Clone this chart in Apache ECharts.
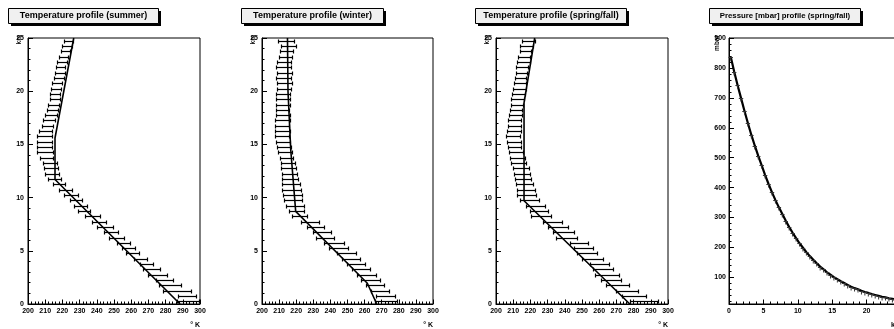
<!DOCTYPE html>
<html>
<head>
<meta charset="utf-8">
<title>Atmosphere profiles</title>
<script src="https://cdn.jsdelivr.net/npm/echarts@6/dist/echarts.min.js"></script>
<style>
  html, body { margin: 0; padding: 0; background: #fff; }
  #chart { width: 894px; height: 329px; }
</style>
</head>
<body>
<div id="chart"></div>
<script>
// altitude bins (km), one measured point per bin
const altitudeKm = [0.25, 0.75, 1.25, 1.75, 2.25, 2.75, 3.25, 3.75, 4.25, 4.75,
  5.25, 5.75, 6.25, 6.75, 7.25, 7.75, 8.25, 8.75, 9.25, 9.75,
  10.25, 10.75, 11.25, 11.75, 12.25, 12.75, 13.25, 13.75, 14.25, 14.75,
  15.25, 15.75, 16.25, 16.75, 17.25, 17.75, 18.25, 18.75, 19.25, 19.75,
  20.25, 20.75, 21.25, 21.75, 22.25, 22.75, 23.25, 23.75, 24.25, 24.75];

// measured temperature (K) and its error, per bin
const summerTemp = [293.0, 292.4, 286.6, 282.6, 279.5, 275.2, 272.0, 268.8, 265.3, 260.9,
  258.4, 255.4, 251.6, 248.4, 244.7, 241.2, 237.4, 232.6, 230.6, 227.8,
  225.0, 221.8, 218.0, 215.5, 214.0, 213.3, 212.6, 210.8, 210.1, 209.4,
  209.4, 209.6, 210.2, 211.3, 212.3, 213.3, 214.3, 215.0, 215.6, 215.8,
  216.2, 217.0, 217.8, 218.5, 219.0, 219.6, 220.6, 221.6, 222.6, 223.6];
const summerErr = [6.4, 5.3, 8.2, 6.4, 5.0, 5.4, 5.0, 3.7, 3.7, 3.9,
  3.9, 3.9, 4.3, 4.2, 4.5, 4.2, 4.3, 3.7, 3.9, 3.4,
  4.2, 3.6, 3.5, 3.6, 4.2, 4.1, 4.1, 3.9, 4.6, 4.4,
  4.4, 4.2, 3.6, 3.4, 3.4, 3.4, 3.4, 3.2, 3.1, 3.0,
  3.0, 2.9, 2.9, 2.9, 2.8, 2.9, 2.8, 2.7, 2.7, 2.7];

const winterTemp = [272.5, 272.0, 269.0, 266.0, 263.3, 261.0, 258.0, 255.0, 252.2, 249.3,
  244.7, 242.0, 236.7, 235.0, 231.2, 228.0, 222.0, 220.3, 219.4, 218.0,
  217.7, 217.3, 217.0, 216.4, 216.1, 215.3, 215.1, 214.2, 213.5, 212.9,
  212.1, 211.7, 211.9, 211.6, 211.9, 212.1, 211.9, 212.1, 212.1, 212.4,
  212.7, 213.2, 212.6, 213.2, 212.4, 213.1, 213.8, 214.2, 215.3, 214.1];
const winterErr = [6.6, 5.5, 5.3, 5.3, 5.6, 5.5, 5.4, 5.4, 5.4, 5.4,
  5.5, 5.8, 5.3, 5.2, 5.1, 5.1, 4.4, 4.3, 5.2, 5.2,
  5.5, 5.4, 5.1, 4.9, 4.6, 4.4, 4.2, 3.9, 3.9, 3.9,
  4.1, 4.1, 4.3, 4.2, 4.3, 4.1, 3.9, 4.1, 4.1, 4.0,
  4.1, 4.2, 4.2, 4.2, 4.4, 4.1, 3.9, 3.9, 4.4, 4.6];

const springTemp = [286.0, 280.4, 276.3, 270.5, 266.8, 264.6, 262.1, 260.3, 256.3, 252.9,
  250.8, 248.1, 240.8, 239.2, 236.1, 233.1, 226.3, 224.9, 223.0, 219.4,
  217.6, 217.3, 216.5, 215.7, 214.9, 214.5, 213.1, 212.5, 211.6, 210.9,
  210.6, 209.9, 210.6, 210.9, 210.9, 211.4, 211.6, 212.1, 212.5, 213.1,
  213.6, 213.8, 214.2, 214.7, 215.2, 215.9, 216.4, 217.2, 217.8, 218.9];
const springErr = [8.0, 7.0, 6.4, 6.7, 5.8, 6.8, 5.9, 5.6, 6.1, 6.0,
  5.5, 5.3, 6.2, 6.0, 5.6, 5.5, 5.8, 5.3, 5.3, 5.6,
  5.4, 5.1, 5.0, 4.8, 4.6, 4.7, 4.2, 4.2, 4.1, 3.9,
  4.2, 4.3, 4.2, 3.9, 3.9, 3.9, 3.7, 3.6, 3.6, 3.6,
  3.7, 3.5, 3.4, 3.3, 3.4, 3.7, 3.6, 3.4, 3.7, 3.6];

// pressure (mbar) per bin, spring/fall
const pressureMbar = [837, 788, 742, 699, 656, 615, 576, 540, 506, 474,
  442, 412, 384, 358, 334, 312, 289, 268, 249, 231,
  214, 199, 184, 171, 159, 147, 136, 127, 117, 109,
  101, 94, 87, 81, 75, 69, 64, 60, 55, 51,
  48, 44, 41, 38, 35, 33, 30, 28, 26, 24];

// reference model profiles (solid lines)
const summerProfileKm = [0, 11.7, 15.6, 25];
const summerProfileTemp = [288.4, 215.7, 215.7, 226.6];
const winterProfileKm = [0, 1.95, 8.7, 14.5, 20, 25];
const winterProfileTemp = [267.1, 261.6, 219.7, 216.8, 215.2, 214.9];
const springProfileKm = [0, 9.7, 18.9, 25];
const springProfileTemp = [277.8, 216.3, 216.3, 222.5];

// pressure axis ticks
const pressureTicks = [100, 200, 300, 400, 500, 600, 700, 800, 900];
const pressureMinorTicks = [20, 40, 60, 80, 120, 140, 160, 180, 220, 240, 260, 280,
  320, 340, 360, 380, 420, 440, 460, 480, 520, 540, 560, 580,
  620, 640, 660, 680, 720, 740, 760, 780, 820, 840, 860, 880];

const titles = ["Temperature profile (summer)", "Temperature profile (winter)",
  "Temperature profile (spring/fall)", "Pressure [mbar] profile (spring/fall)"];

const FONT = "Liberation Sans";
const panelLeft = [28, 262, 496, 729];
const panelWidth = [172, 171, 172, 172];
const boxX = [8, 241, 475, 709];
const boxW = [150, 142, 151, 151];

function zip(a, b) {
  return a.map((v, i) => [v, b[i]]);
}

// horizontal error bar with end caps
function tempErrorBar(params, api) {
  const t = api.value(0), km = api.value(1), e = api.value(2);
  const a = api.coord([t - e, km]);
  const b = api.coord([t + e, km]);
  const y = Math.round(a[1]) + 0.5;
  const x1 = Math.round(a[0]) + 0.5;
  const x2 = Math.round(b[0]) + 0.5;
  const st = { stroke: "#000", lineWidth: 1.2 };
  return {
    type: "group",
    children: [
      { type: "line", shape: { x1: x1, y1: y, x2: x2, y2: y }, style: st },
      { type: "line", shape: { x1: x1, y1: y - 2, x2: x1, y2: y + 2 }, style: st },
      { type: "line", shape: { x1: x2, y1: y - 2, x2: x2, y2: y + 2 }, style: st },
    ],
  };
}

// bin-wide marker for the pressure histogram
function pressureMark(params, api) {
  const km = api.value(0), p = api.value(1);
  const a = api.coord([km - 0.25, p]);
  const b = api.coord([km + 0.25, p]);
  const c = api.coord([km, p]);
  const y = Math.round(a[1]) + 0.5;
  const st = { stroke: "#333", lineWidth: 1 };
  return {
    type: "group",
    children: [
      { type: "line", shape: { x1: a[0] - 0.5, y1: y, x2: b[0] + 0.5, y2: y }, style: st },
      { type: "line", shape: { x1: c[0], y1: y, x2: c[0], y2: y + 3 }, style: st },
    ],
  };
}

const labelStyle = { color: "#000", fontSize: 7, fontWeight: "bold", fontFamily: FONT };

function tempXAxis(i) {
  return {
    gridIndex: i, type: "value", min: 200, max: 300, interval: 10,
    axisLine: { show: true, lineStyle: { color: "#000", width: 1 } },
    axisTick: { show: true, inside: true, length: 4.5, lineStyle: { color: "#000" } },
    minorTick: { show: true, splitNumber: 5, length: 2.5, lineStyle: { color: "#000" } },
    axisLabel: Object.assign({ margin: 4 }, labelStyle),
    splitLine: { show: false },
  };
}

function kmYAxis(i) {
  return {
    gridIndex: i, type: "value", min: 0, max: 25, interval: 5,
    axisLine: { show: true, lineStyle: { color: "#000", width: 1 } },
    axisTick: { show: true, inside: true, length: 5, lineStyle: { color: "#000" } },
    minorTick: { show: true, splitNumber: 5, length: 2.5, lineStyle: { color: "#000" } },
    axisLabel: Object.assign({ margin: 4 }, labelStyle),
    splitLine: { show: false },
  };
}

const grids = panelLeft.map((left, i) => ({
  left: left, top: 38, width: panelWidth[i], height: 266,
  outerBoundsMode: "none", containLabel: false,
  show: true, borderColor: "#000", borderWidth: 1, backgroundColor: "#fff",
}));

const xAxes = [tempXAxis(0), tempXAxis(1), tempXAxis(2), {
  gridIndex: 3, type: "value", min: 0, max: 25, interval: 5,
  axisLine: { show: true, lineStyle: { color: "#000", width: 1 } },
  axisTick: { show: true, inside: true, length: 4.5, lineStyle: { color: "#000" } },
  minorTick: { show: true, splitNumber: 5, length: 2.5, lineStyle: { color: "#000" } },
  axisLabel: Object.assign({ margin: 4 }, labelStyle),
  splitLine: { show: false },
}];

const yAxes = [kmYAxis(0), kmYAxis(1), kmYAxis(2), {
  gridIndex: 3, type: "value", min: 11, max: 900,
  axisLine: { show: true, lineStyle: { color: "#000", width: 1 } },
  axisTick: { show: true, inside: true, length: 5, customValues: pressureTicks, lineStyle: { color: "#000" } },
  axisLabel: Object.assign({ margin: 3, customValues: pressureTicks }, labelStyle),
  splitLine: { show: false },
}, {
  // minor ticks for the pressure axis
  gridIndex: 3, type: "value", min: 11, max: 900, position: "left",
  axisLine: { show: false },
  axisTick: { show: true, inside: true, length: 2.5, customValues: pressureMinorTicks, lineStyle: { color: "#000" } },
  axisLabel: { show: false },
  splitLine: { show: false },
}];

const temps = [summerTemp, winterTemp, springTemp];
const errs = [summerErr, winterErr, springErr];
const profiles = [
  zip(summerProfileTemp, summerProfileKm),
  zip(winterProfileTemp, winterProfileKm),
  zip(springProfileTemp, springProfileKm),
];

const series = [];
for (let i = 0; i < 3; i++) {
  series.push({
    type: "custom", xAxisIndex: i, yAxisIndex: i,
    renderItem: tempErrorBar,
    data: altitudeKm.map((km, j) => [temps[i][j], km, errs[i][j]]),
    silent: true, z: 3,
  });
  series.push({
    type: "line", xAxisIndex: i, yAxisIndex: i,
    data: profiles[i], symbol: "none",
    lineStyle: { color: "#000", width: 1.6 }, z: 4,
  });
}
series.push({
  type: "line", xAxisIndex: 3, yAxisIndex: 3,
  data: zip(altitudeKm, pressureMbar), symbol: "none",
  lineStyle: { color: "#000", width: 2.2 }, z: 3,
});
series.push({
  type: "custom", xAxisIndex: 3, yAxisIndex: 3,
  renderItem: pressureMark,
  data: zip(altitudeKm, pressureMbar), silent: true, z: 4,
});

// title boxes and axis titles
const graphics = [];
titles.forEach((t, i) => {
  graphics.push({ type: "rect", shape: { x: boxX[i] + 3, y: 11, width: boxW[i], height: 15 }, style: { fill: "#000" } });
  graphics.push({ type: "rect", shape: { x: boxX[i] + 0.5, y: 8.5, width: boxW[i], height: 15 }, style: { fill: "#f0f0f0", stroke: "#000", lineWidth: 1 } });
  graphics.push({
    type: "text", x: boxX[i] + boxW[i] / 2 + 0.5, y: 16,
    style: { text: t, fill: "#000", font: "bold " + (i === 3 ? 7.8 : 9) + "px " + FONT, textAlign: "center", textVerticalAlign: "middle" },
  });
  const xTitle = i === 3 ? "km" : "° K";
  graphics.push({
    type: "text", x: panelLeft[i] + panelWidth[i], y: 325,
    style: { text: xTitle, fill: "#000", font: "bold 7px " + FONT, textAlign: "right", textVerticalAlign: "middle" },
  });
  const yTitle = i === 3 ? "mbar" : "km";
  graphics.push({
    type: "text", x: panelLeft[i] - (i === 3 ? 12 : 9), y: 35, rotation: Math.PI / 2,
    style: { text: yTitle, fill: "#000", font: "bold 6.5px " + FONT, textAlign: "right", textVerticalAlign: "middle" },
  });
});

const chart = echarts.init(document.getElementById("chart"), null, { renderer: "canvas" });
chart.setOption({
  animation: false,
  backgroundColor: "#fff",
  grid: grids,
  xAxis: xAxes,
  yAxis: yAxes,
  series: series,
  graphic: graphics,
});
</script>
</body>
</html>
